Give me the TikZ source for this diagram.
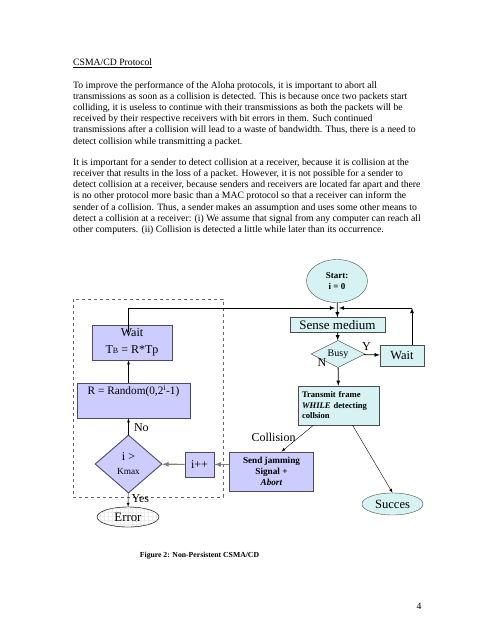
\documentclass[tikz,border=0pt]{standalone}
\usepackage{fontspec}
\setmainfont{Liberation Serif}
\usetikzlibrary{shapes.geometric,positioning}
\definecolor{lilac}{RGB}{204,204,255}
\definecolor{lilacedge}{RGB}{75,75,105}
\definecolor{aqua}{RGB}{214,242,242}

\begin{document}
\begin{tikzpicture}[x=1pt,y=1pt,>=latex,
	lilacbox/.style={draw=lilacedge,fill=lilac,line width=0.9pt,inner sep=1pt,align=center},
	dotbox/.style={draw=black!70,fill=aqua,inner sep=1pt,align=center},
	body/.style={font=\fontsize{9.7}{11.1}\selectfont,inner sep=0pt,align=left},
	lbl/.style={font=\fontsize{12}{14}\selectfont}]
	\fill[white] (0,0) rectangle (495,-640);

	% text above the figure
	\node[body,anchor=base west] (title) at (73,-65.5) {\underline{CSMA/CD Protocol}};
	\node[body,anchor=north west] (para1) at (73,-81.5) {To improve the performance of the Aloha protocols, it is important to abort all\\
	transmissions as soon as a collision is detected. This is because once two packets start\\
	colliding, it is useless to continue with their transmissions as both the packets will be\\
	received by their respective receivers with bit errors in them. Such continued\\
	transmissions after a collision will lead to a waste of bandwidth. Thus, there is a need to\\
	detect collision while transmitting a packet.};
	\node[body,anchor=north west] (para2) at (73,-158.6) {It is important for a sender to detect collision at a receiver, because it is collision at the\\
	receiver that results in the loss of a packet. However, it is not possible for a sender to\\
	detect collision at a receiver, because senders and receivers are located far apart and there\\
	is no other protocol more basic than a MAC protocol so that a receiver can inform the\\
	sender of a collision. Thus, a sender makes an assumption and uses some other means to\\
	detect a collision at a receiver: (i) We assume that signal from any computer can reach all\\
	other computers. (ii) Collision is detected a little while later than its occurrence.};

	% backoff part
	\draw[dashed,black!60] (73,-299) rectangle (223,-497);

	\node[dotbox,ellipse,minimum width=61pt,minimum height=43pt,font=\fontsize{9}{11}\selectfont\bfseries] (start) at (337,-281) {Start:\\ i = 0};
	\coordinate (jun) at (337,-308);
	\coordinate (back) at (412,-308);
	\node[dotbox,minimum width=95pt,minimum height=15pt,inner sep=0pt,font=\fontsize{13}{15}\selectfont] (sense) at (337.5,-325) {Sense medium};
	\node[dotbox,diamond,aspect=2,minimum width=54pt,minimum height=27pt,inner sep=0pt,font=\fontsize{10}{12}\selectfont] (busy) at (338,-354) {Busy};
	\node[dotbox,minimum width=44pt,minimum height=21pt,font=\fontsize{12.5}{14}\selectfont] (waitr) at (402,-355.5) {Wait};
	\node[dotbox,minimum width=81pt,minimum height=39pt,inner xsep=4pt,text width=73pt,align=left,font=\fontsize{8.6}{10.5}\selectfont\bfseries] (transmit) at (338.5,-405.5) {Transmit frame\\ \textit{WHILE} detecting\\ collsion};
	\node[dotbox,ellipse,minimum width=61pt,minimum height=22pt,inner sep=0pt,font=\fontsize{12.6}{14}\selectfont] (succ) at (392.5,-504) {Succes};

	\node[lilacbox,minimum width=80pt,minimum height=35pt,font=\fontsize{12}{17}\selectfont] (wtb) at (132,-342.5) {Wait\\ T{\fontsize{8}{8}\selectfont B} = R*Tp};
	\node[lilacbox,minimum width=113pt,inner ysep=3pt,text height=8pt,text depth=21pt,font=\fontsize{11.3}{13}\selectfont] (rand) at (133.5,-400.5) {R = Random(0,2\textsuperscript{i}-1)};
	\node[lilacbox,diamond,minimum width=67pt,minimum height=58pt,inner sep=0pt,font=\fontsize{12}{14}\selectfont] (kmax) at (128.5,-464) {i >\\ {\fontsize{9.3}{11}\selectfont Kmax}};
	\node[lilacbox,minimum width=29pt,minimum height=25pt,font=\fontsize{12}{14}\selectfont] (inc) at (199.5,-464.5) {i++};
	\node[lilacbox,minimum width=84pt,minimum height=39pt,font=\fontsize{9.2}{11}\selectfont\bfseries] (jam) at (271.5,-471.5) {Send jamming\\ Signal +\\ \textit{Abort}};
	\node[draw=black!80,ellipse,fill=white,minimum width=62pt,minimum height=20pt,inner sep=0pt] (error) at (128,-517) {};
	\begin{scope}
		\clip (error.center) ellipse (31 and 10);
		\draw[black!7,line width=0.3pt,step=4] (96,-528) grid (160,-506);
	\end{scope}
	\draw[black!80] (error.center) ellipse (31 and 10);
	\node[font=\fontsize{12.8}{14}\selectfont] (errtext) at (error) {Error};

	\path[->,thick]
	(start) edge (sense)
	(sense) edge (busy)
	(busy) edge node[lbl,above,pos=0.15] (ylbl) {Y} (waitr)
	(busy) edge node[lbl,left,pos=0,xshift=-8pt,yshift=5pt] (nlbl) {N} (transmit)
	(waitr.north -| back) edge (back)
	(back) edge ([xshift=2pt]jun);
	\draw[->,thick] ([yshift=-7pt]wtb.north -| kmax) |- ([xshift=-2pt]jun);

	\path[->]
	(kmax.north) edge node[lbl,right,pos=0.4,xshift=2pt] (nolbl) {No} (rand.south -| kmax)
	(rand.north -| kmax) edge (wtb.south -| kmax)
	(kmax) edge node[lbl,right,pos=0.4] (yeslbl) {Yes} (error);
	\path[->,gray,very thick]
	(jam.west |- inc) edge (inc)
	(inc) edge (kmax);
	\path[->,thin]
	([xshift=-25pt]transmit.south) edge node[lbl,left,pos=0.45] (collbl) {Collision} ([xshift=10pt]jam.north)
	([xshift=14pt]transmit.south) edge (succ.north);

	\node[font=\fontsize{7.7}{9}\selectfont\bfseries] (caption) at (199.5,-556) {Figure 2: Non-Persistent CSMA/CD};
	\node[font=\fontsize{9.7}{11}\selectfont] (pagenum) at (419,-606) {4};
\end{tikzpicture}
\end{document}
